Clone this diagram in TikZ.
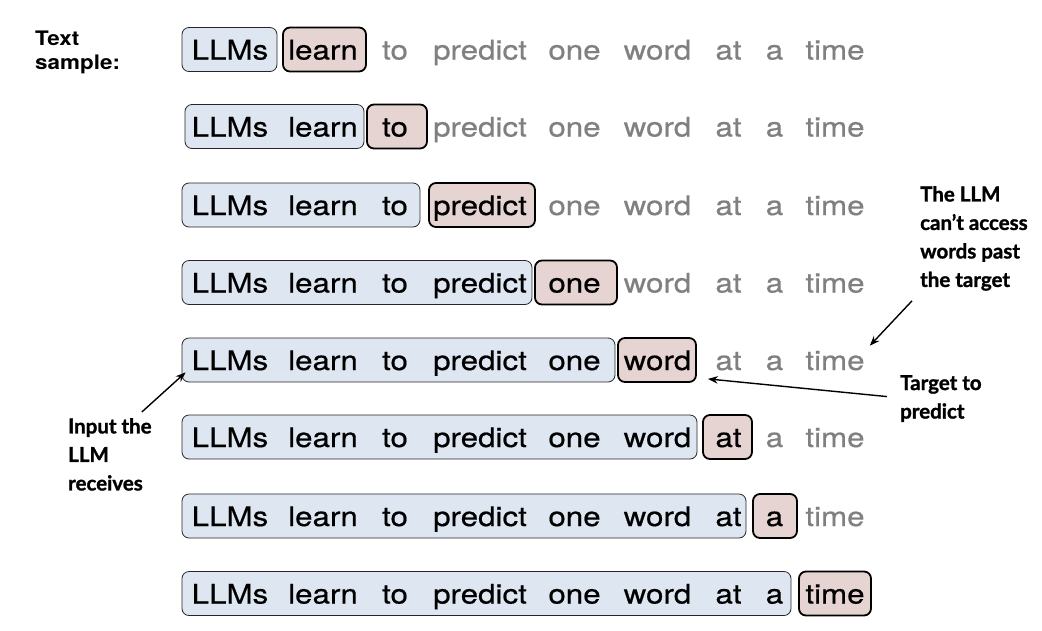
\documentclass[tikz,border=0pt]{standalone}
\usepackage{fontspec}
\setmainfont{TeX Gyre Heros}
\newfontfamily\wordfont[FakeBold=0.5]{TeX Gyre Heros}
\newfontfamily\lato[BoldFeatures={FakeBold=1.3}]{Lato}
\usetikzlibrary{arrows.meta,calc,fit}
\definecolor{bluefill}{HTML}{DEE7F1}
\definecolor{redfill}{HTML}{E6D4D2}
\definecolor{graytext}{HTML}{808080}
\newcommand{\wsc}[1]{\scalebox{1.16}[1]{#1}}
\begin{document}
\begin{tikzpicture}[x=1pt,y=-1pt,
  wd/.style={inner sep=0pt, anchor=base, font=\wordfont\fontsize{27}{30}\selectfont},
  inbox/.style={draw=black!85, line width=0.8pt, rounded corners=7pt, fill=bluefill, inner sep=0pt},
  tgtbox/.style={draw=black, line width=1.8pt, rounded corners=7pt, fill=redfill, inner sep=0pt},
  note/.style={font=\lato\bfseries\fontsize{20.5}{28.5}\selectfont, align=left, inner sep=0pt, anchor=north west},
  arr/.style={-{Stealth[length=10pt,width=7.5pt]}, line width=1.4pt}
]
\useasboundingbox (0,0) rectangle (1042,630);

\foreach \r/\yc/\bl/\br/\rl/\rr in {
  1/49.5/182/277/283/366,
  2/126.5/185/364/367/427,
  3/205/182/420/429/535,
  4/282.5/182/532/535/617,
  5/360/182/615/618/696,
  6/437/182/697/703/752,
  7/516/182/746/753/797,
  8/593.5/182/791/799/871}{
  \node[inbox, fit={(\bl,\yc-22)(\br,\yc+22)}] (in\r) {};
  \node[tgtbox, fit={(\rl,\yc-22)(\rr,\yc+22)}] (tg\r) {};
  \foreach \w/\x [count=\i] in {LLMs/230, learn/323, to/395, predict/480, one/574.5, word/657.5, at/728.5, a/774.5, time/835}{
    \pgfmathtruncatemacro{\lim}{\r+1}
    \ifnum\i>\lim\relax \def\col{graytext}\else\def\col{black}\fi
    \node[wd, text=\col] (w\r-\i) at (\x,\yc+10) {\wsc{\w}};
  }
}

\node[font=\bfseries\fontsize{20}{24}\selectfont, align=left, inner sep=0pt, anchor=north west] (ts) at (35,31)
  {\scalebox{1.12}[1]{Text}\\\scalebox{1.12}[1]{sample:}};

\node[note] (acc) at (920,186) {The LLM\\can’t access\\words past\\the target};
\node[note] (tgt) at (900,375) {Target to\\predict};
\node[note] (inp) at (68,418) {Input the\\LLM\\receives};

\draw[arr] ($(acc.south west)+(-8,10)$) -- ($(w5-9.north east)+(5,-5)$);
\draw[arr] ($(tgt.west)+(-13,-2)$) -- ($(tg5.south east)+(11,-4)$);
\draw[arr] ($(inp.north east)+(-10,-6)$) -- ($(in5.south west)+(4,-10)$);
\end{tikzpicture}
\end{document}
